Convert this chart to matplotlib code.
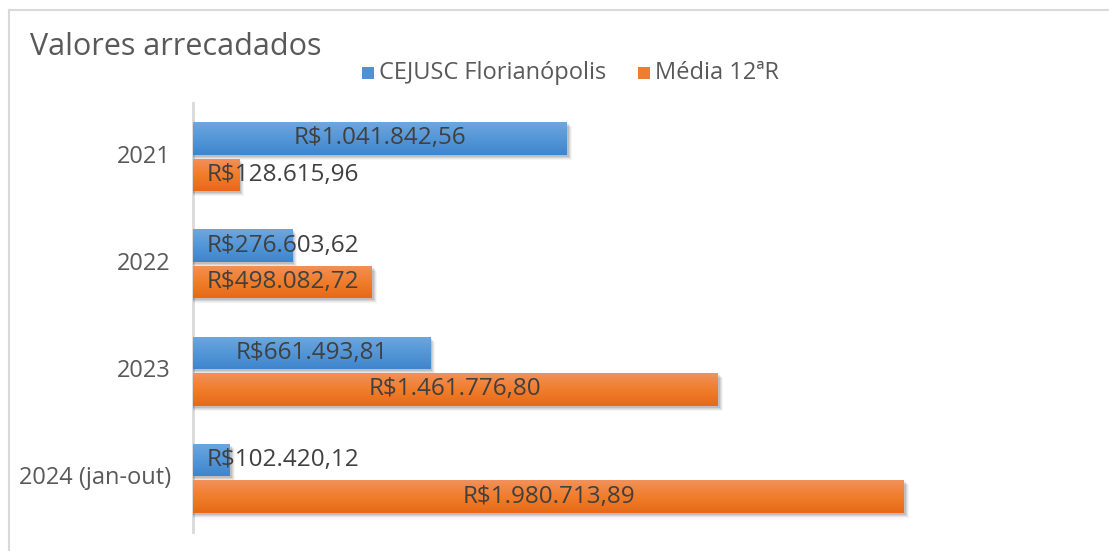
import numpy as np
import matplotlib
matplotlib.use("Agg")
import matplotlib.pyplot as plt
from matplotlib.patches import Rectangle
from matplotlib.colors import LinearSegmentedColormap

plt.rcParams["font.family"] = ["Open Sans", "DejaVu Sans"]

# ── dados ──────────────────────────────────────────────
categories = ["2021", "2022", "2023", "2024 (jan-out)"]
cejusc = [1041842.56, 276603.62, 661493.81, 102420.12]
media = [128615.96, 498082.72, 1461776.80, 1980713.89]
series_names = ["CEJUSC Florianópolis", "Média 12ªR"]


def brl(v):
    s = f"{v:,.2f}"
    s = s.replace(",", "X").replace(".", ",").replace("X", ".")
    return "R$" + s


W, H = 1109, 551
fig = plt.figure(figsize=(W / 100, H / 100), dpi=100)
fig.patch.set_facecolor("white")

# moldura (só topo e esquerda aparecem)
fig.add_artist(plt.Line2D([9 / W, 1], [1 - 10 / H, 1 - 10 / H], color="#d9d9d9", lw=1.5))
fig.add_artist(plt.Line2D([9 / W, 9 / W], [0, 1 - 10 / H], color="#d9d9d9", lw=1.5))

ax_left, ax_right = 193, 1060
ax_top, ax_bottom = 103, 532
ax = fig.add_axes([ax_left / W, 1 - ax_bottom / H,
                   (ax_right - ax_left) / W, (ax_bottom - ax_top) / H])

px_per_unit = (904 - 193) / 1980713.89
px_per_cat = (ax_bottom - ax_top) / 4
xmax = (ax_right - ax_left) / px_per_unit
ax.set_xlim(0, xmax)
ax.set_ylim(3.5, -0.5)
ax.axis("off")
ax.plot([0, 0], [3.5, -0.5], color="#d9d9d9", lw=2, clip_on=False, zorder=1)

bh = 0.305
gap = 0.035
blue_cmap = LinearSegmentedColormap.from_list("b", ["#6ea7dd", "#5497d8", "#3f85cc"])
orange_cmap = LinearSegmentedColormap.from_list("o", ["#f0915a", "#f17d2b", "#e66a17"])
grad = np.linspace(0, 1, 64).reshape(-1, 1)

min_center = 250000

for i, cat in enumerate(categories):
    for vals, cmap, off in [(cejusc, blue_cmap, -(bh / 2 + gap / 2)),
                            (media, orange_cmap, (bh / 2 + gap / 2))]:
        v = vals[i]
        yc = i + off
        y0, y1 = yc - bh / 2, yc + bh / 2
        # sombra
        for k, a in enumerate([0.10, 0.08, 0.06, 0.04]):
            dx = (2 + k) / px_per_unit
            dy = (2 + k) / px_per_cat
            ax.add_patch(Rectangle((0, y0 + dy), v + dx, bh, facecolor="black",
                                   alpha=a, lw=0, zorder=2))
        rect = Rectangle((0, y0), v, bh, facecolor="none", lw=0, zorder=3)
        ax.add_patch(rect)
        im = ax.imshow(grad, cmap=cmap, aspect="auto", extent=[0, v, y1, y0],
                       zorder=3, interpolation="bilinear")
        im.set_clip_path(rect)
        ax.text(max(v / 2, min_center), yc, brl(v), ha="center", va="center",
                fontsize=17.5, color="#404040", zorder=5)
    ax.text(-22 / px_per_unit, i, cat, ha="right", va="center",
            fontsize=17, color="#595959")

# título
fig.text(30 / W, 1 - 47 / H, "Valores arrecadados", fontsize=22, color="#595959",
         ha="left", va="center")

# legenda
for (name, col, x0) in [(series_names[0], "#4e92d6", 362), (series_names[1], "#f07c2e", 638)]:
    fig.add_artist(Rectangle((x0 / W, 1 - 79 / H), 12 / W, 12 / H, transform=fig.transFigure,
                             facecolor=col, lw=0))
    fig.text((x0 + 17) / W, 1 - 73 / H, name, fontsize=17, color="#595959",
             ha="left", va="center")

fig.savefig("out.png", dpi=100, facecolor="white")
